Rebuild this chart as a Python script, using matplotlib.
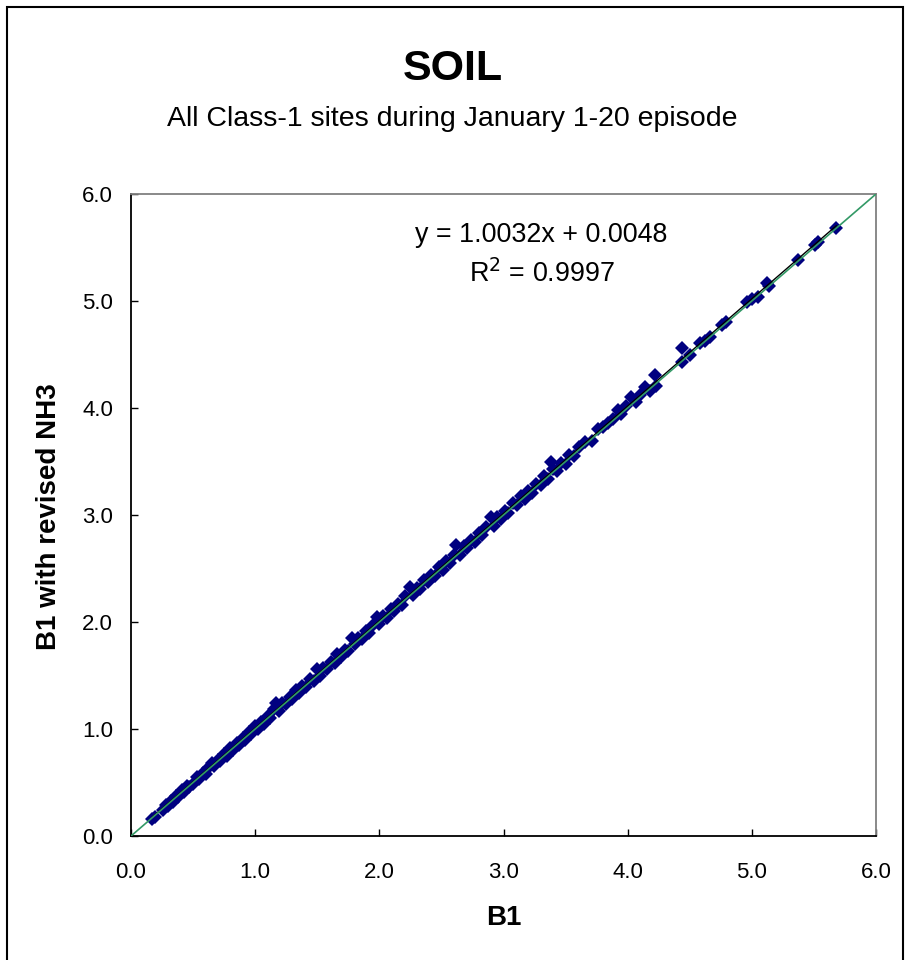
import matplotlib
matplotlib.use("Agg")
import matplotlib.pyplot as plt
from matplotlib.patches import Rectangle

plt.rcParams['font.family'] = ['Liberation Sans', 'DejaVu Sans']

# B1 (x) vs. B1 with revised NH3 (y), all Class-1 sites, Jan 1-20 episode
b1 = [0.17, 0.19, 0.26, 0.28, 0.30, 0.32, 0.34, 0.36, 0.38, 0.41, 0.43, 0.45, 0.47,
      0.50, 0.53, 0.55, 0.58, 0.60, 0.62, 0.65, 0.67, 0.70, 0.72, 0.75, 0.77, 0.80,
      0.82, 0.85, 0.87, 0.90, 0.92, 0.95, 0.97, 1.00, 1.02, 1.05, 1.07, 1.10, 1.12,
      1.15, 1.17, 1.19, 1.22, 1.25, 1.28, 1.30, 1.33, 1.35, 1.38, 1.41, 1.44, 1.47,
      1.50, 1.52, 1.55, 1.58, 1.61, 1.64, 1.66, 1.69, 1.72, 1.75, 1.78, 1.80, 1.83,
      1.86, 1.89, 1.92, 1.95, 1.98, 2.00, 2.03, 2.06, 2.09, 2.12, 2.15, 2.18, 2.21,
      2.25, 2.27, 2.30, 2.33, 2.36, 2.39, 2.42, 2.45, 2.48, 2.51, 2.54, 2.57, 2.60,
      2.62, 2.65, 2.68, 2.71, 2.74, 2.77, 2.80, 2.83, 2.86, 2.90, 2.92, 2.95, 2.98,
      3.01, 3.04, 3.08, 3.11, 3.14, 3.17, 3.20, 3.23, 3.26, 3.30, 3.33, 3.36, 3.38,
      3.40, 3.43, 3.46, 3.50, 3.53, 3.57, 3.61, 3.66, 3.71, 3.76, 3.80, 3.84, 3.88,
      3.92, 3.95, 3.99, 4.03, 4.07, 4.10, 4.14, 4.18, 4.22, 4.23, 4.44, 4.44, 4.50,
      4.58, 4.62, 4.66, 4.76, 4.79, 4.96, 5.00, 5.05, 5.12, 5.14, 5.37, 5.51, 5.53,
      5.68]
b1_revised = [0.16, 0.18, 0.24, 0.29, 0.28, 0.33, 0.32, 0.37, 0.36, 0.43, 0.41, 0.47, 0.46,
              0.49, 0.55, 0.53, 0.59, 0.58, 0.64, 0.68, 0.65, 0.71, 0.70, 0.77, 0.75, 0.82,
              0.80, 0.87, 0.85, 0.92, 0.90, 0.97, 0.95, 1.03, 1.00, 1.07, 1.05, 1.12, 1.10,
              1.19, 1.24, 1.17, 1.24, 1.23, 1.30, 1.28, 1.36, 1.34, 1.40, 1.39, 1.47, 1.45,
              1.56, 1.50, 1.57, 1.56, 1.63, 1.62, 1.70, 1.67, 1.74, 1.73, 1.85, 1.79, 1.85,
              1.84, 1.92, 1.90, 1.97, 2.05, 1.98, 2.06, 2.04, 2.12, 2.10, 2.17, 2.16, 2.24,
              2.33, 2.25, 2.32, 2.31, 2.39, 2.37, 2.44, 2.43, 2.51, 2.49, 2.57, 2.55, 2.63,
              2.72, 2.63, 2.71, 2.69, 2.77, 2.75, 2.83, 2.81, 2.89, 2.98, 2.90, 2.98, 2.96,
              3.04, 3.02, 3.11, 3.09, 3.18, 3.15, 3.22, 3.21, 3.29, 3.28, 3.36, 3.34, 3.50,
              3.43, 3.41, 3.49, 3.48, 3.56, 3.55, 3.64, 3.68, 3.69, 3.80, 3.82, 3.86, 3.90,
              3.98, 3.94, 4.02, 4.10, 4.06, 4.12, 4.20, 4.16, 4.31, 4.21, 4.56, 4.43, 4.50,
              4.61, 4.63, 4.66, 4.78, 4.80, 4.99, 5.02, 5.04, 5.17, 5.14, 5.38, 5.52, 5.55,
              5.68]

slope, intercept = 1.0032, 0.0048
r_squared = 0.9997

ticks = [0.0, 1.0, 2.0, 3.0, 4.0, 5.0, 6.0]
tick_labels = ["0.0", "1.0", "2.0", "3.0", "4.0", "5.0", "6.0"]

W, H = 905, 960
fig = plt.figure(figsize=(W / 100, H / 100), dpi=100)
fig.patch.set_facecolor("white")

# chart frame
fig.patches.append(Rectangle((6.5 / W, -0.01), (903 - 6.5) / W, 1 - 6.5 / H + 0.01,
                             transform=fig.transFigure, fill=False,
                             edgecolor="black", linewidth=1.5))

ax = fig.add_axes([131 / W, 1 - 836 / H, (876 - 131) / W, (836 - 194) / H])

ax.plot(b1, b1_revised, linestyle="none", marker="D", markersize=7.5,
        color="#000080", markeredgewidth=0, zorder=2)

# 1:1 reference line
ax.plot([0, 6], [0, 6], color="#339966", linewidth=1.2, zorder=4)

# linear trend line over the data range
x_lo, x_hi = min(b1), max(b1)
ax.plot([x_lo, x_hi], [slope * x_lo + intercept, slope * x_hi + intercept],
        color="black", linewidth=1.0, zorder=3)

ax.set_xlim(0, 6)
ax.set_ylim(0, 6)
ax.set_xticks(ticks)
ax.set_yticks(ticks)
ax.set_xticklabels(tick_labels)
ax.set_yticklabels(tick_labels)
ax.tick_params(direction="in", length=5, width=1, labelsize=16, color="black")
ax.tick_params(axis="x", pad=19)
ax.tick_params(axis="y", pad=13)

for side in ("left", "bottom"):
    ax.spines[side].set_color("black")
    ax.spines[side].set_linewidth(1.3)
for side in ("top", "right"):
    ax.spines[side].set_color("#808080")
    ax.spines[side].set_linewidth(1.3)

fig.text(503.5 / W, 1 - 918 / H, "B1", ha="center", va="center",
         fontsize=20, fontweight="bold")
fig.text(49 / W, 1 - 517 / H, "B1 with revised NH3", ha="center", va="center",
         rotation=90, fontsize=20, fontweight="bold")

ax.text(0.551, 0.936, f"y = {slope:.4f}x + {intercept:.4f}", transform=ax.transAxes,
        ha="center", va="center", fontsize=19.4)
ax.text(0.551, 0.875, f"R$^2$ = {r_squared:.4f}", transform=ax.transAxes,
        ha="center", va="center", fontsize=19.4)

fig.text(0.5, 1 - 69 / H, "SOIL", ha="center", va="center",
         fontsize=31, fontweight="bold")
fig.text(0.5, 1 - 119 / H, "All Class-1 sites during January 1-20 episode",
         ha="center", va="center", fontsize=20.5)

fig.savefig("out.png", dpi=100, facecolor="white")
